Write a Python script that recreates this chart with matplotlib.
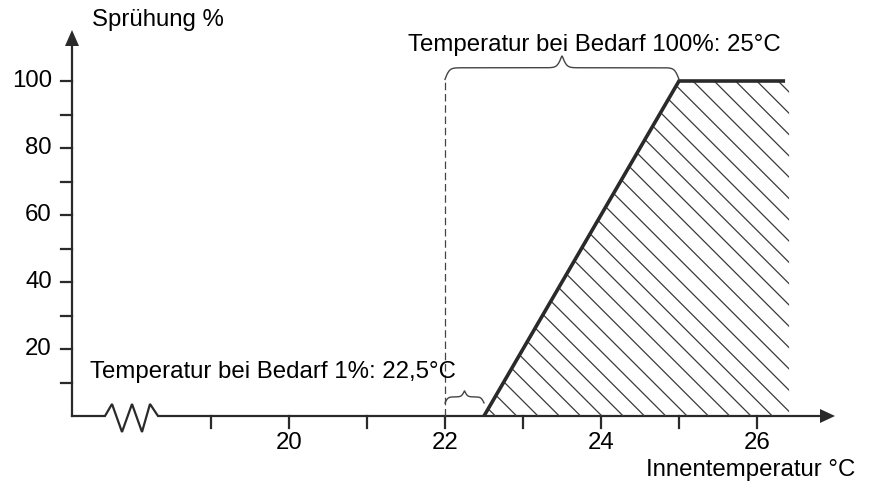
import numpy as np
import matplotlib.pyplot as plt
from matplotlib.patches import Polygon

# spray demand vs indoor temperature
temp_points = [22.5, 25.0, 26.36]
spray_points = [0, 100, 100]
x_major = [20, 22, 24, 26]
x_minor = [19, 21, 23, 25]
y_major = [20, 40, 60, 80, 100]
y_minor = [10, 30, 50, 70, 90]
dashed_at = 22.0

# pixel scale of the drawing (px per degree / px per percent)
PX_X = 78.0
PX_Y = 3.35
W, H = 870, 488
X20_PX, Y0_PX = 289, 416

plt.rcParams['font.family'] = ['Liberation Sans', 'DejaVu Sans']
fs = 17.3
ink = '#2a2a2a'

fig = plt.figure(figsize=(W / 100, H / 100), dpi=100)
ax = fig.add_axes([0, 0, 1, 1])
ax.set_xlim(20 - X20_PX / PX_X, 20 + (W - X20_PX) / PX_X)
ax.set_ylim(-(H - Y0_PX) / PX_Y, Y0_PX / PX_Y)
ax.axis('off')


def dx(px):
    return px / PX_X


def dy(px):
    return px / PX_Y


x_org = 20 - dx(X20_PX - 72)
x_tip = x_org + dx(835 - 72)
y_tip = dy(Y0_PX - 30)

# x axis with the break zigzag
zig_px = [(0, 0), (7, 12), (17, -16), (27, 12), (37, -16), (45, 12), (53, 0)]
zx = [x_org + dx(33 + p[0]) for p in zig_px]
zy = [dy(p[1]) for p in zig_px]
ax.plot([x_org] + zx + [x_tip - dx(12)], [0] + zy + [0], color=ink, lw=1.6,
        solid_joinstyle='miter')
ax.plot([x_org, x_org], [0, y_tip - dy(12)], color=ink, lw=1.6)

# arrow heads
ax.add_patch(Polygon([(x_tip, 0), (x_tip - dx(15), dy(7)), (x_tip - dx(15), -dy(7))],
                     closed=True, color=ink, lw=0))
ax.add_patch(Polygon([(x_org, y_tip), (x_org - dx(7), y_tip - dy(16)),
                      (x_org + dx(7), y_tip - dy(16))], closed=True, color=ink, lw=0))

# ticks
for t in x_major + x_minor:
    ax.plot([t, t], [0, -dy(12)], color=ink, lw=1.6)
for t in x_major:
    ax.text(t, -dy(27), f"{t}", ha='center', va='center', fontsize=fs, color='black')
for t in y_major + y_minor:
    ax.plot([x_org - dx(11), x_org], [t, t], color=ink, lw=1.6)
for t in y_major:
    ax.text(x_org - dx(20), t, f"{t}", ha='right', va='center', fontsize=fs, color='black')

# hatched area right of the ramp
area = Polygon([(temp_points[0], 0), (temp_points[1], spray_points[1]),
                (temp_points[2] + dx(4), spray_points[2]), (temp_points[2] + dx(4), 0)],
               closed=True, facecolor='none', edgecolor='none')
ax.add_patch(area)
step = dx(21.3)
for x0 in np.arange(22.919 - 3 * step, temp_points[2] + 4.5, step):
    ln, = ax.plot([x0, x0 - 120 * PX_Y / PX_X], [0, 120], color='#3a3a3a', lw=0.9)
    ln.set_clip_path(area)

# demand curve
ax.plot(temp_points, spray_points, color=ink, lw=2.6, solid_capstyle='butt',
        solid_joinstyle='miter')

# dashed marker line
ax.plot([dashed_at, dashed_at], [0, 100.5], color='#444444', lw=0.9,
        linestyle=(0, (6, 3)))


def brace(x0, x1, y, h, k):
    n = 400
    xs_px = np.linspace(0, (x1 - x0) * PX_X, n)
    half = xs_px[:n // 2]
    yh = 1 / (1 + np.exp(-k * (half - half[0]))) + 1 / (1 + np.exp(-k * (half - half[-1])))
    yy = np.concatenate([yh, yh[::-1]])
    ax.plot(x0 + xs_px / PX_X, y + (yy - 0.5) * h, color='#444444', lw=1.0)


brace(dashed_at, temp_points[1], 100.5, 6.9, 0.45)
brace(dashed_at, temp_points[0], 3.9, 3.6, 0.7)

# labels
ax.text(23.91, dy(Y0_PX - 45), "Temperatur bei Bedarf 100%: 25°C", ha='center',
        va='center', fontsize=fs, color='black')
ax.text(17.45, dy(Y0_PX - 372), "Temperatur bei Bedarf 1%: 22,5°C", ha='left',
        va='center', fontsize=fs, color='black')
ax.text(17.47, dy(Y0_PX - 20), "Sprühung %", ha='left', va='center', fontsize=fs,
        color='black')
ax.text(27.256, dy(Y0_PX - 470), "Innentemperatur °C", ha='right', va='center',
        fontsize=fs, color='black')

fig.savefig('out.png', dpi=100, facecolor='white')
